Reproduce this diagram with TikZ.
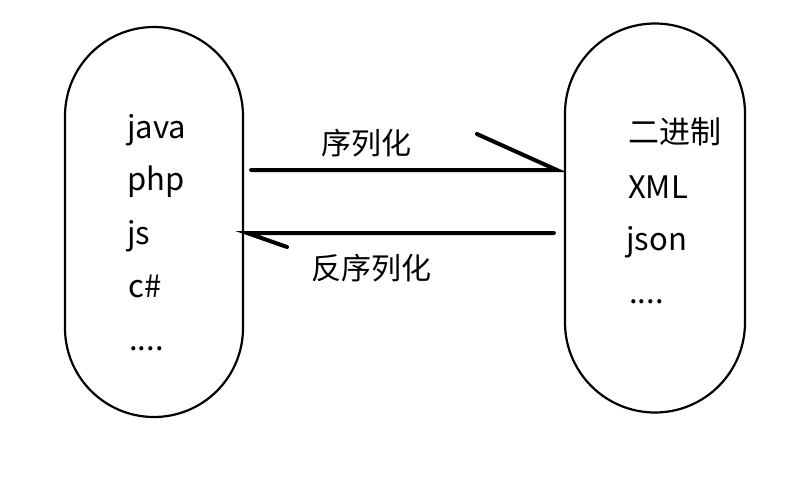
\documentclass[tikz,border=0pt]{standalone}
\usepackage{fontspec}
\setmainfont{Noto Sans CJK SC}
\begin{document}
\begin{tikzpicture}[x=1pt, y=-1pt,
    pill/.style={rectangle, draw, line width=2.2pt, rounded corners=89pt, minimum width=178pt, minimum height=390pt},
    item/.style={anchor=base west, inner sep=0pt, font=\fontsize{31}{36}\selectfont},
    label/.style={inner sep=0pt, font=\fontsize{30}{36}\selectfont},
    conn/.style={line width=4pt, line cap=round}]
    \useasboundingbox (0,0) rectangle (806,488);

    \node [pill] (src) at (154,222) {};
    \node [pill, minimum width=180pt, minimum height=389pt, rounded corners=90pt] (dst) at (655,218) {};

    % languages
    \node [item] (java) at (127,138) {java};
    \node [item] (php) at (127,190) {php};
    \node [item] (js) at (127,244) {js};
    \node [item] (cs) at (128,297) {c\#};
    \node [item] (etc1) at (129,350) {....};

    % formats
    \node [item] (bin) at (628,143) {二进制};
    \node [item] (xml) at (628,198) {XML};
    \node [item] (json) at (626,250) {json};
    \node [item] (etc2) at (629,303) {....};

    % serialize / deserialize
    \draw [conn] ([xshift=7pt, yshift=52pt]src.east) -- ([xshift=-7pt, yshift=48pt]dst.west) -- ++(-80,-36);
    \draw [conn] ([xshift=-10pt, yshift=-15pt]dst.west) -- ([xshift=3pt, yshift=-11pt]src.east) -- ++(40,14);

    \node [label] (ser) at (366,143) {序列化};
    \node [label] (deser) at (371,268) {反序列化};
\end{tikzpicture}
\end{document}
